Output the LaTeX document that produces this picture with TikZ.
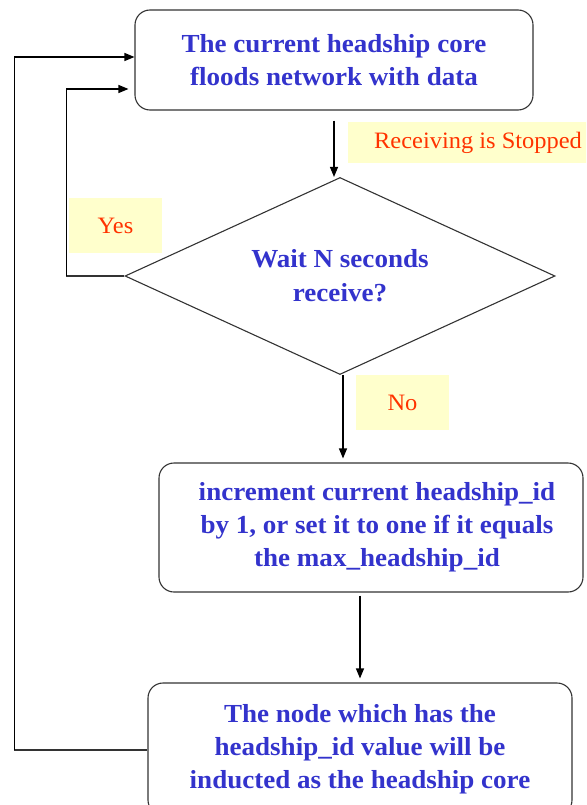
\documentclass[tikz,border=0pt]{standalone}
\usepackage{fontspec}
\setmainfont{Liberation Serif}[FakeStretch=1.04]
\usetikzlibrary{shapes.geometric,arrows.meta}
\definecolor{txtblue}{HTML}{3333CC}
\definecolor{lblred}{HTML}{FF3300}
\definecolor{lblfill}{HTML}{FFFFCC}
\definecolor{edge}{HTML}{333333}
\tikzset{
  procbox/.style={draw=edge, line width=1.1pt, rounded corners=15pt, align=center,
    text=txtblue, font=\bfseries\fontsize{26}{33}\selectfont, inner sep=0pt},
  decision/.style={draw=edge, line width=1.1pt, diamond, shape aspect=2.18, inner sep=0pt,
    align=center, text=txtblue, font=\bfseries\fontsize{26}{34}\selectfont,
    minimum width=430pt, minimum height=197pt},
  tag/.style={fill=lblfill, text=lblred, font=\fontsize{23.5}{26}\selectfont, inner sep=0pt},
  arr/.style={draw=black, line width=1.1pt, -{Triangle[length=10pt,width=8pt]}},
  wire/.style={draw=edge, line width=1.1pt}
}
\begin{document}
\begin{tikzpicture}[x=1pt,y=-1pt]
  \useasboundingbox (0,0) rectangle (586,805);
  \clip (0,0) rectangle (586,805);

  % labels on the branches
  \node[tag, minimum width=260pt, minimum height=41pt] (recv) at (478,142.5) {Receiving is Stopped};
  \node[tag, minimum width=93pt, minimum height=55pt] (yes) at (115.5,225.5) {Yes};
  \node[tag, minimum width=93pt, minimum height=55pt] (no) at (402.5,402.5) {No};

  % process steps
  \node[procbox, minimum width=398pt, minimum height=100pt] (flood) at (334,60)
    {The current headship core\\floods network with data};
  \node[decision] (wait) at (340,276) {Wait N seconds\\receive?};
  \node[procbox, minimum width=424pt, minimum height=129pt] (incr) at (371,527.5)
    {\hspace*{12pt}increment current headship\_id\\\hspace*{12pt}by 1, or set it to one if it equals\\\hspace*{12pt}the max\_headship\_id};
  \node[procbox, minimum width=424pt, minimum height=132pt] (induct) at (360,749)
    {The node which has the\\headship\_id value will be\\inducted as the headship core};

  % forward flow
  \draw[arr, shorten <=10pt] (flood.south) -- (flood.south |- wait.north);
  \draw[arr, shorten >=4pt] ([xshift=3pt]wait.south) -- ([xshift=3pt]wait.south |- incr.north);
  \draw[arr, shorten <=3pt, shorten >=4pt] (incr.south -| induct.north) -- (induct.north);

  % loop back on "Yes"
  \draw[wire] (wait.west) -- ++(-58,0) coordinate (yesturn);
  \draw[arr, shorten >=6pt] (yesturn) |- ([yshift=-29pt]flood.west);

  % loop back after the new core is chosen
  \draw[wire] ([yshift=-1pt]induct.west) -- ++(-133,0) coordinate (backturn);
  \draw[arr] (backturn) |- ([yshift=3pt]flood.west);
\end{tikzpicture}
\end{document}
